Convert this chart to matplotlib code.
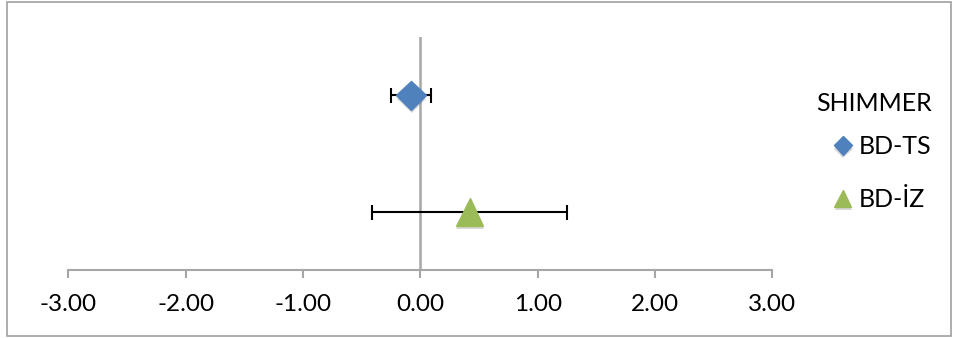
import matplotlib.pyplot as plt
import matplotlib.patheffects as pe
from matplotlib.patches import Rectangle

# shimmer differences with error bars
labels = ['BD-TS', 'BD-İZ']
means = [-0.08, 0.42]
errs = [0.17, 0.83]
ypos = [3, 1]
colors = ['#4F81BD', '#9BBB59']
markers = ['D', '^']
msizes = [15, 20]

plt.rcParams['font.family'] = ['Lato', 'DejaVu Sans']

fig = plt.figure(figsize=(9.57, 3.38), dpi=100)
ax = fig.add_axes([0.0714, 0.2012, 0.7356, 0.6893])

ax.axvline(0, color='#A6A6A6', lw=1.8, zorder=1)

shadow = [pe.SimplePatchShadow(offset=(0.5, -2.5), shadow_rgbFace='#808080', alpha=0.3), pe.Normal()]
for i in range(len(labels)):
    ax.errorbar(means[i], ypos[i], xerr=errs[i], fmt='none', ecolor='black',
                elinewidth=1.5, capsize=5.4, capthick=1.5, zorder=2)
    ax.plot(means[i], ypos[i], marker=markers[i], color=colors[i], ms=msizes[i],
            mec=colors[i], linestyle='none', label=labels[i], zorder=3,
            path_effects=shadow)

ax.set_xlim(-3, 3)
ax.set_ylim(0, 4)
ax.set_xticks([-3, -2, -1, 0, 1, 2, 3])
ax.set_xticklabels(['%.2f' % v for v in [-3, -2, -1, 0, 1, 2, 3]])
ax.set_yticks([])
for s in ['top', 'right', 'left']:
    ax.spines[s].set_visible(False)
ax.spines['bottom'].set_color('#A6A6A6')
ax.spines['bottom'].set_linewidth(1.5)
ax.tick_params(axis='x', direction='out', length=6, width=1.5, color='#A6A6A6',
               labelsize=17.5, pad=11)

leg = ax.legend(title='SHIMMER', loc='upper left', bbox_to_anchor=(1.03, 0.86),
                frameon=False, fontsize=18, title_fontsize=18, markerscale=0.62,
                handlelength=0.8, handletextpad=0.25, labelspacing=1.2,
                alignment='right')
# less room between title and first entry
leg._legend_box.sep = 0.8 * 18

# outer border of the chart
fig.patches.append(Rectangle((0.007, 0.005), 0.987, 0.99, transform=fig.transFigure,
                             fill=False, edgecolor='#A0A0A0', lw=1.2))

plt.savefig('out.png', dpi=100)
